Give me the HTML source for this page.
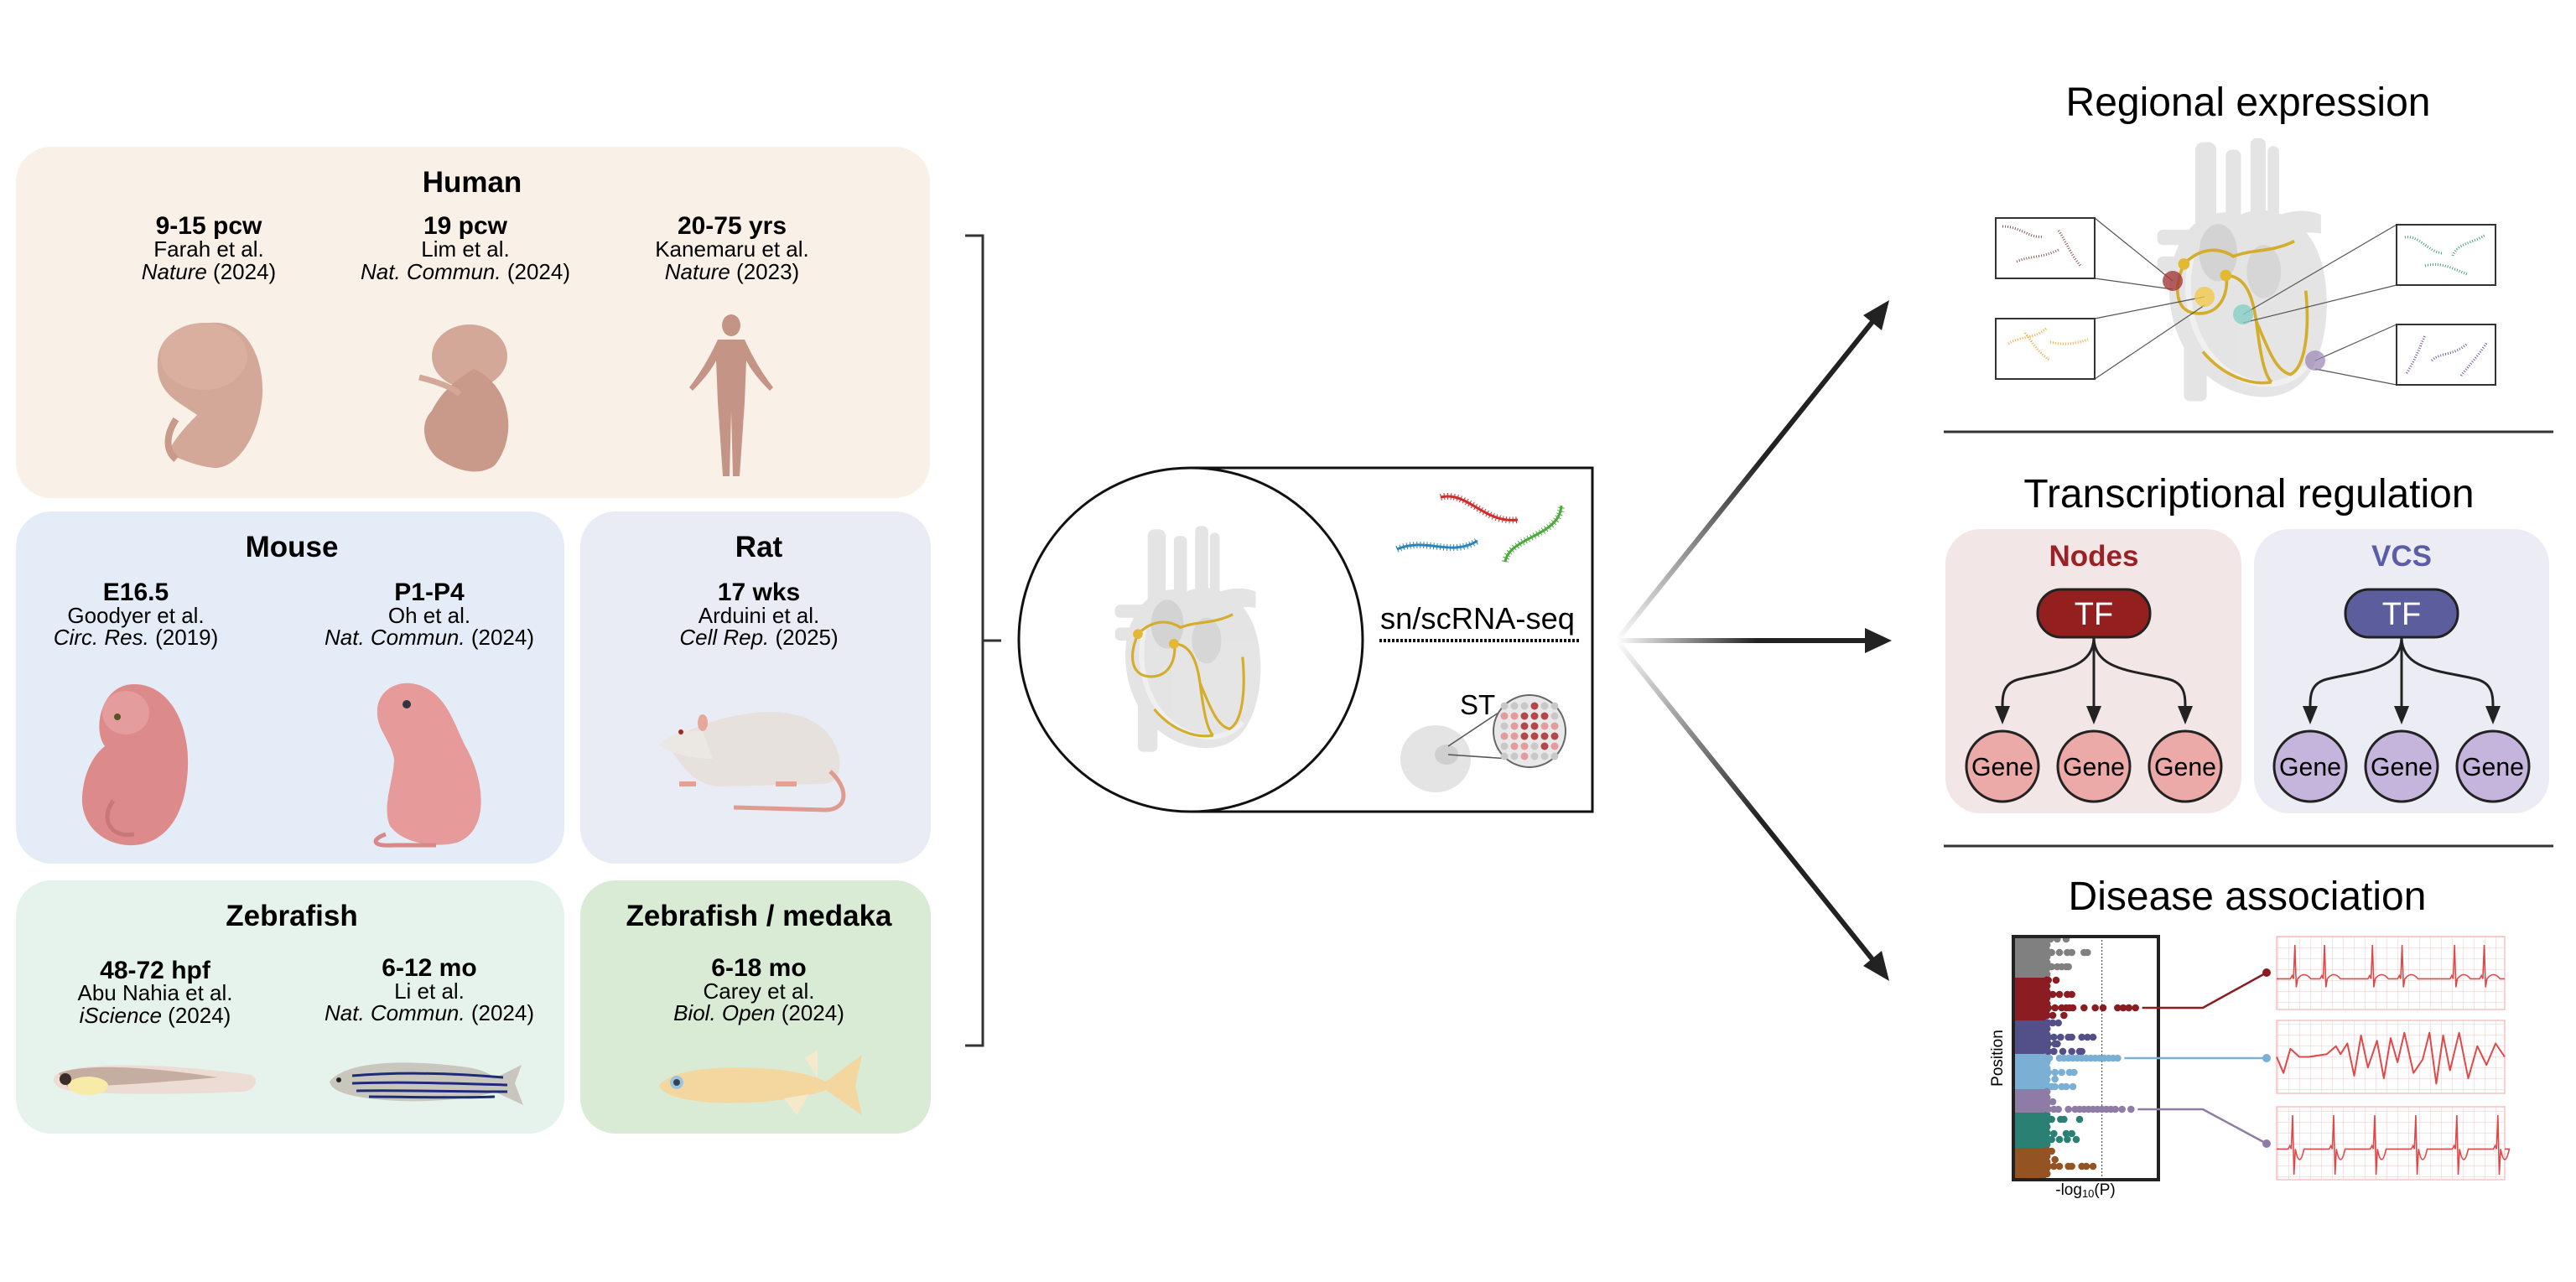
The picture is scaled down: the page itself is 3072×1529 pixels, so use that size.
<!DOCTYPE html>
<html><head><meta charset="utf-8">
<style>
html,body{margin:0;padding:0;background:#fff;}
svg{display:block;font-family:"Liberation Sans",Arial,sans-serif;}
</style></head>
<body>
<svg id="root" width="3072" height="1529" viewBox="0 0 3072 1529" xmlns="http://www.w3.org/2000/svg">
<defs>
  <linearGradient id="gUp" x1="1928" y1="764" x2="2230" y2="370" gradientUnits="userSpaceOnUse">
    <stop offset="0" stop-color="#fff"/><stop offset="0.55" stop-color="#222"/><stop offset="1" stop-color="#222"/></linearGradient>
  <linearGradient id="gMid" x1="1928" y1="764" x2="2230" y2="764" gradientUnits="userSpaceOnUse">
    <stop offset="0" stop-color="#fff"/><stop offset="0.55" stop-color="#222"/><stop offset="1" stop-color="#222"/></linearGradient>
  <linearGradient id="gDn" x1="1928" y1="764" x2="2230" y2="1155" gradientUnits="userSpaceOnUse">
    <stop offset="0" stop-color="#fff"/><stop offset="0.55" stop-color="#222"/><stop offset="1" stop-color="#222"/></linearGradient>
  <pattern id="ecgGrid" width="13" height="13" patternUnits="userSpaceOnUse">
    <path d="M13 0V13M0 13H13" stroke="#f6c4c4" stroke-width="1" fill="none"/></pattern>
  <symbol id="heart" viewBox="0 0 100 140">
    <g fill="#e2e2e2" opacity="0.9">
      <rect x="26" y="2" width="11" height="60" rx="4"/>
      <rect x="42" y="6" width="8" height="40" rx="3"/>
      <rect x="55" y="0" width="8" height="45" rx="3"/>
      <rect x="64" y="4" width="6" height="40" rx="3"/>
      <rect x="6" y="48" width="22" height="8" rx="3"/>
      <rect x="6" y="62" width="22" height="8" rx="3"/>
      <path d="M55 48 C70 38 82 36 92 40 L92 50 C82 48 72 52 62 58 Z"/>
      <rect x="20" y="108" width="12" height="30" rx="3"/>
      <path d="M18 55 C8 72 10 108 34 126 C50 138 72 140 84 126 C98 108 98 72 88 55 C80 40 62 34 50 40 C38 36 24 42 18 55 Z"/>
    </g>
    <path d="M24 62 C20 80 22 104 40 120 C55 132 74 132 84 120" fill="none" stroke="#f0f0f0" stroke-width="3"/>
    <ellipse cx="38" cy="60" rx="10" ry="15" fill="#d3d3d3"/>
    <ellipse cx="62" cy="70" rx="9" ry="14" fill="#d6d6d6"/>
    <g fill="none" stroke="#d4ad2c" stroke-width="1.6">
      <path d="M20 66 C30 56 40 58 46 62 C56 58 66 60 78 54"/>
      <path d="M20 66 C14 80 16 92 28 92 C40 92 44 80 42 70"/>
      <path d="M42 72 C52 72 56 82 58 96 C60 112 62 124 66 128 M58 96 C64 110 68 122 76 124 C84 120 86 100 84 80"/>
      <path d="M30 112 C40 124 54 130 66 128"/>
    </g>
    <circle cx="20" cy="66" r="3" fill="#e2b930"/><circle cx="42" cy="72" r="3" fill="#e2b930"/>
  </symbol>
</defs>

<!-- ================= LEFT PANELS ================= -->
<g>
  <rect x="19" y="175" width="1090" height="419" rx="42" fill="#f9f0e7"/>
  <rect x="19" y="610" width="654" height="420" rx="42" fill="#e4edf7"/>
  <rect x="692" y="610" width="418" height="420" rx="42" fill="#e9ecf4"/>
  <rect x="19" y="1050" width="654" height="302" rx="42" fill="#e6f3ec"/>
  <rect x="692" y="1050" width="418" height="302" rx="42" fill="#d9ebd5"/>
</g>

<g text-anchor="middle" fill="#000">
  <text x="563" y="229" font-size="35" font-weight="bold">Human</text>
  <g>
    <text x="249" y="279" font-size="30" font-weight="bold">9-15 pcw</text>
    <text x="249" y="306" font-size="26">Farah et al.</text>
    <text x="249" y="333" font-size="26"><tspan font-style="italic">Nature</tspan> (2024)</text>
  </g>
  <g>
    <text x="555" y="279" font-size="30" font-weight="bold">19 pcw</text>
    <text x="555" y="306" font-size="26">Lim et al.</text>
    <text x="555" y="333" font-size="26"><tspan font-style="italic">Nat. Commun.</tspan> (2024)</text>
  </g>
  <g>
    <text x="873" y="279" font-size="30" font-weight="bold">20-75 yrs</text>
    <text x="873" y="306" font-size="26">Kanemaru et al.</text>
    <text x="873" y="333" font-size="26"><tspan font-style="italic">Nature</tspan> (2023)</text>
  </g>

  <text x="348" y="664" font-size="35" font-weight="bold">Mouse</text>
  <g>
    <text x="162" y="716" font-size="30" font-weight="bold">E16.5</text>
    <text x="162" y="743" font-size="26">Goodyer et al.</text>
    <text x="162" y="769" font-size="26"><tspan font-style="italic">Circ. Res.</tspan> (2019)</text>
  </g>
  <g>
    <text x="512" y="716" font-size="30" font-weight="bold">P1-P4</text>
    <text x="512" y="743" font-size="26">Oh et al.</text>
    <text x="512" y="769" font-size="26"><tspan font-style="italic">Nat. Commun.</tspan> (2024)</text>
  </g>
  <text x="905" y="664" font-size="35" font-weight="bold">Rat</text>
  <g>
    <text x="905" y="716" font-size="30" font-weight="bold">17 wks</text>
    <text x="905" y="743" font-size="26">Arduini et al.</text>
    <text x="905" y="769" font-size="26"><tspan font-style="italic">Cell Rep.</tspan> (2025)</text>
  </g>

  <text x="348" y="1104" font-size="35" font-weight="bold">Zebrafish</text>
  <g>
    <text x="185" y="1167" font-size="30" font-weight="bold">48-72 hpf</text>
    <text x="185" y="1193" font-size="26">Abu Nahia et al.</text>
    <text x="185" y="1220" font-size="26"><tspan font-style="italic">iScience</tspan> (2024)</text>
  </g>
  <g>
    <text x="512" y="1164" font-size="30" font-weight="bold">6-12 mo</text>
    <text x="512" y="1191" font-size="26">Li et al.</text>
    <text x="512" y="1217" font-size="26"><tspan font-style="italic">Nat. Commun.</tspan> (2024)</text>
  </g>
  <text x="905" y="1104" font-size="35" font-weight="bold">Zebrafish / medaka</text>
  <g>
    <text x="905" y="1164" font-size="30" font-weight="bold">6-18 mo</text>
    <text x="905" y="1191" font-size="26">Carey et al.</text>
    <text x="905" y="1217" font-size="26"><tspan font-style="italic">Biol. Open</tspan> (2024)</text>
  </g>
</g>

<!-- organism illustrations -->
<g>
  <path d="M250 385 C300 380 318 440 312 480 C306 525 280 560 255 558 C235 556 215 548 200 540 C210 520 225 505 235 495 C215 480 185 470 188 430 C190 400 215 386 250 385 Z" fill="#d3a898"/>
  <ellipse cx="243" cy="425" rx="52" ry="40" fill="#d9afa0"/>
  <path d="M210 500 C200 515 195 535 210 548" stroke="#c99a8a" stroke-width="8" fill="none"/>
</g>
<g>
  <ellipse cx="560" cy="425" rx="45" ry="38" fill="#d3a898"/>
  <path d="M565 440 C610 460 618 520 590 555 C570 570 540 560 520 545 C505 530 500 505 515 490 C525 470 540 455 565 440 Z" fill="#c9998a"/>
  <path d="M500 450 C520 455 540 462 548 470" stroke="#d3a898" stroke-width="7" fill="none"/>
</g>
<g fill="#c49586">
  <ellipse cx="872" cy="388" rx="11" ry="13"/>
  <path d="M856 405 L888 405 C895 420 905 440 922 462 L918 466 C902 450 894 438 890 430 L888 480 L882 568 L874 568 L872 490 L870 568 L862 568 L856 480 L854 430 C850 438 842 450 826 466 L822 462 C839 440 849 420 856 405 Z"/>
</g>
<g>
  <path d="M160 816 C200 816 226 860 224 915 C222 970 200 1005 160 1008 C125 1010 96 985 98 950 C100 920 112 900 125 890 C110 870 120 816 160 816 Z" fill="#dd8a8a"/>
  <ellipse cx="150" cy="850" rx="28" ry="26" fill="#e59c9c"/>
  <circle cx="140" cy="855" r="4" fill="#552"/>
  <path d="M135 955 C120 975 130 1000 160 995" stroke="#c97878" stroke-width="5" fill="none"/>
</g>
<g>
  <path d="M490 815 C530 820 540 860 555 890 C578 930 585 990 545 1005 C515 1012 480 1005 465 985 C455 960 470 930 470 905 C465 880 448 870 450 845 C452 825 470 813 490 815 Z" fill="#e69a9a"/>
  <circle cx="485" cy="840" r="5" fill="#334"/>
  <path d="M460 995 C445 1000 440 1010 470 1008 L520 1008" stroke="#d88888" stroke-width="5" fill="none"/>
</g>
<g>
  <path d="M795 885 C830 865 860 855 900 850 C950 845 990 860 1000 900 C1005 925 995 935 980 935 L860 938 C830 938 812 915 795 885 Z" fill="#e6e1dc"/>
  <path d="M785 888 C800 875 820 870 838 872 L850 905 C830 905 800 900 785 888 Z" fill="#ebe7e3"/>
  <ellipse cx="838" cy="862" rx="6" ry="10" fill="#e9a79c"/>
  <circle cx="812" cy="873" r="3" fill="#a22"/>
  <path d="M990 920 C1012 940 1012 965 985 966 L875 963" stroke="#e09a90" stroke-width="5" fill="none"/>
  <path d="M810 935 L830 935 M925 935 L950 935" stroke="#e8a090" stroke-width="6"/>
</g>
<g>
  <path d="M70 1280 C100 1266 200 1268 300 1282 C310 1288 305 1300 290 1302 C200 1306 120 1306 80 1300 C62 1296 60 1286 70 1280 Z" fill="#eddcd3"/>
  <path d="M70 1280 C100 1268 180 1272 260 1285 C180 1292 120 1296 80 1296 Z" fill="#c5ada2"/>
  <ellipse cx="105" cy="1295" rx="24" ry="11" fill="#f8eba8"/>
  <circle cx="78" cy="1287" r="7" fill="#3b2d28"/>
</g>
<g>
  <path d="M393 1290 C410 1268 470 1262 550 1272 C570 1274 585 1280 590 1286 L622 1270 L614 1292 L624 1318 L590 1302 C570 1310 500 1318 440 1310 C410 1306 395 1300 393 1290 Z" fill="#c9c7bd"/>
  <g stroke="#1f2a7a" stroke-width="3" fill="none">
    <path d="M420 1283 C480 1278 540 1280 600 1285"/><path d="M420 1292 C480 1290 540 1292 605 1294"/><path d="M425 1301 C480 1300 540 1302 605 1302"/><path d="M440 1308 C490 1308 540 1310 590 1308"/>
  </g>
  <circle cx="404" cy="1288" r="3" fill="#222"/>
</g>
<g>
  <path d="M786 1295 C800 1275 860 1270 920 1275 C955 1278 975 1285 985 1290 L1028 1258 L1020 1295 L1028 1330 L985 1300 C960 1310 900 1318 850 1315 C810 1312 790 1305 786 1295 Z" fill="#f3d79f"/>
  <circle cx="807" cy="1291" r="8" fill="#9cc4de"/><circle cx="807" cy="1291" r="4" fill="#345"/>
  <path d="M960 1262 L975 1252 L975 1285 Z M935 1310 L950 1330 L965 1305 Z" fill="#f5e9cc"/>
</g>

<!-- bracket -->
<path d="M1151 281 H1172 V1247 H1151 M1172 764 H1194" fill="none" stroke="#333" stroke-width="3"/>

<!-- ================= CENTER ================= -->
<g>
  <path d="M1420 558 H1899 V968 H1420" fill="#fff" stroke="#111" stroke-width="3"/>
  <circle cx="1420" cy="763" r="205" fill="#fff" stroke="#111" stroke-width="3"/>
  <use href="#heart" x="1318" y="618" width="195" height="292"/>
  <g fill="none" stroke-width="3">
    <path d="M1718 593 C1750 585 1770 625 1810 620" stroke="#d22b2b" stroke-dasharray="1 3" stroke-width="8"/>
    <path d="M1718 593 C1750 585 1770 625 1810 620" stroke="#d22b2b"/>
    <path d="M1666 655 C1700 640 1730 665 1762 645" stroke="#2b85b8" stroke-dasharray="1 3" stroke-width="8"/>
    <path d="M1666 655 C1700 640 1730 665 1762 645" stroke="#2b85b8"/>
    <path d="M1795 670 C1800 640 1860 640 1862 603" stroke="#4caa3c" stroke-dasharray="1 3" stroke-width="8"/>
    <path d="M1795 670 C1800 640 1860 640 1862 603" stroke="#4caa3c"/>
  </g>
  <text x="1762" y="750" font-size="36" text-anchor="middle" textLength="232" lengthAdjust="spacingAndGlyphs">sn/scRNA-seq</text>
  <line x1="1645" y1="764" x2="1884" y2="764" stroke="#111" stroke-width="4" stroke-dasharray="3 2"/>
  <text x="1741" y="852" font-size="33">ST</text>
  <ellipse cx="1712" cy="905" rx="42" ry="40" fill="#e4e4e4"/>
  <ellipse cx="1725" cy="900" rx="14" ry="12" fill="#cfcfcf"/>
  <path d="M1727 890 L1790 848 M1727 900 L1800 905" stroke="#555" stroke-width="1.5"/>
  <circle cx="1824" cy="872" r="43" fill="#e8e8e8" stroke="#666" stroke-width="2"/>
  <g id="spots"></g>
</g>

<!-- arrows -->
<g>
  <line x1="1928" y1="764" x2="2236" y2="380" stroke="url(#gUp)" stroke-width="6"/>
  <polygon points="2253,358 2244,394 2222,376" fill="#222"/>
  <line x1="1928" y1="764" x2="2228" y2="764" stroke="url(#gMid)" stroke-width="6"/>
  <polygon points="2256,764 2224,749 2224,779" fill="#222"/>
  <line x1="1928" y1="764" x2="2236" y2="1148" stroke="url(#gDn)" stroke-width="6"/>
  <polygon points="2253,1170 2222,1152 2244,1134" fill="#222"/>
</g>

<!-- ================= RIGHT ================= -->
<g text-anchor="middle" font-size="48">
  <text x="2681" y="138">Regional expression</text>
  <text x="2682" y="605">Transcriptional regulation</text>
  <text x="2680" y="1085">Disease association</text>
</g>
<line x1="2318" y1="515" x2="3045" y2="515" stroke="#333" stroke-width="3"/>
<line x1="2318" y1="1009" x2="3045" y2="1009" stroke="#333" stroke-width="3"/>

<g>
  <use href="#heart" x="2555" y="165" width="235" height="318"/>
  <g stroke="#555" stroke-width="1.2">
    <line x1="2498" y1="260" x2="2591" y2="335"/><line x1="2498" y1="332" x2="2591" y2="345"/>
    <line x1="2498" y1="380" x2="2629" y2="354"/><line x1="2498" y1="452" x2="2629" y2="364"/>
    <line x1="2858" y1="268" x2="2675" y2="375"/><line x1="2858" y1="340" x2="2675" y2="385"/>
    <line x1="2858" y1="387" x2="2761" y2="430"/><line x1="2858" y1="459" x2="2761" y2="440"/>
  </g>
  <circle cx="2591" cy="335" r="12" fill="#a13a3a" opacity="0.8"/>
  <circle cx="2629" cy="354" r="12" fill="#f2c84b" opacity="0.8"/>
  <circle cx="2675" cy="375" r="12" fill="#86cfc6" opacity="0.8"/>
  <circle cx="2761" cy="430" r="12" fill="#9a85b4" opacity="0.7"/>
  <g fill="#fff" stroke="#333" stroke-width="2">
    <rect x="2380" y="260" width="118" height="72"/>
    <rect x="2380" y="380" width="118" height="72"/>
    <rect x="2858" y="268" width="118" height="72"/>
    <rect x="2858" y="387" width="118" height="72"/>
  </g>
  <g fill="none" stroke-width="3" stroke-dasharray="1 2">
    <path d="M2388 270 C2410 270 2420 285 2437 282 M2455 275 C2465 290 2470 305 2482 318 M2405 312 C2420 305 2435 308 2455 298" stroke="#8a5555"/>
    <path d="M2395 410 C2410 400 2425 405 2440 392 M2415 397 C2425 410 2430 420 2445 430 M2445 408 C2460 412 2475 410 2490 405" stroke="#efa93c"/>
    <path d="M2868 283 C2885 280 2895 300 2912 302 M2925 305 C2930 290 2950 290 2964 280 M2892 317 C2910 312 2925 320 2942 327" stroke="#4a9a8e"/>
    <path d="M2870 445 C2880 430 2885 415 2892 400 M2900 430 C2910 420 2925 425 2942 410 M2935 448 C2945 435 2955 425 2966 408" stroke="#7a5a9a"/>
  </g>
</g>

<g>
  <rect x="2320" y="631" width="353" height="339" rx="42" fill="#f3e6e6"/>
  <rect x="2688" y="631" width="352" height="339" rx="42" fill="#ecedf4"/>
  <text x="2497" y="675" font-size="35" font-weight="bold" fill="#9a2226" text-anchor="middle">Nodes</text>
  <text x="2864" y="675" font-size="35" font-weight="bold" fill="#5b5ea6" text-anchor="middle">VCS</text>
  <g id="trees"></g>
</g>

<g id="disease"></g>
</svg>

<script>
// ---- Manhattan plot data ----
var bandNames = ["gray","red","navy","lightblue","purple","teal","brown"];
var bandColors = ["#808080","#8b1c22","#535089","#7bafd4","#8e7ca6","#2a8073","#935323"];
var bandStart = [0, 49, 100, 140, 182, 210, 252];     // position units (top of each band)
var bandEnd   = [49, 100, 140, 182, 210, 252, 290];
var dotBand = [0,0,0,1,1,1,1,2,2,2,2,3,3,3,3,4,4,5,5,5,6,6,6];
var dotPos  = [3,19,36,52,69,85,94,103,120,128,137,145,162,170,179,197,206,218,235,242,256,266,274];
var dotVals = [
  [0.4,1.0,1.8],
  [0.5,1.2,1.9,2.3,3.4,3.7],
  [0.5,1.0,1.4,1.8,2.0],
  [0.2,0.9],
  [0.6,1.2,1.9,2.3],
  [0.2,0.8,1.4,1.8,2.1,2.4,3.4,4.4,5.1,6.4,6.9,7.4,8.0],
  [0.6,1.6],
  [0.2,0.6,1.1],
  [0.2,0.7,1.3,2.0,2.3,3.2,3.7,4.2],
  [0.2,0.8,1.0],
  [0.2,0.7,1.5,2.3,3.0,3.2],
  [0.3,1.2,1.6,2.0,2.4,2.8,3.2,3.6,4.0,4.4,4.8,5.2,5.6,6.0,6.4],
  [0.2,0.8,1.4,2.1,2.5],
  [0.8],
  [0.5,0.8,1.4,1.8,2.4],
  [0.6],
  [0.2,0.7,1.1,2.0,2.6,3.0,3.4,3.8,4.2,4.6,5.0,5.4,5.8,6.2,6.8,7.6],
  [0.5,1.3,1.6,3.0],
  [0.7,1.8,2.3],
  [0.2,0.5,1.2,1.9,2.7],
  [0.5],
  [0.8],
  [0.2,0.7,1.2,2.0,2.3,3.2,3.6,4.2]
];
var threshold = 5.0;
var xMax = 9.6;
// highlighted hits: [dot row, ECG panel]
var hitRows = [5, 11, 16];
var hitColors = ["#8b1c22","#7bafd4","#8e7ca6"];
// ECG rhythms (beat times in panel units 0..100)
var ecgBeats1 = [8,21,42,55,78,91];
var ecgBeats3 = [7,25,43,61,79,97];
var ecgVf = [0,3,6,10,14,18,22,26,28,31,34,37,40,44,47,50,53,56,60,64,67,70,73,76,80,84,88,92,96,100];
var ecgVfAmp = [0,-0.6,0.3,0.0,0.0,0.05,0.1,0.4,0.1,0.5,-0.7,0.8,-0.4,0.6,-0.8,0.7,-0.2,0.9,-0.6,-0.1,0.9,-1.0,0.8,-0.5,0.9,-0.8,0.4,-0.3,0.5,0.0];

var NS = "http://www.w3.org/2000/svg";
function mk(tag, attrs, parent){var e=document.createElementNS(NS,tag);for(var k in attrs)e.setAttribute(k,attrs[k]);parent.appendChild(e);return e;}

var plotL=2401, plotR=2574, plotT=1117, plotB=1407, base=2440;
function xScale(v){return base + v*(plotR-6-base)/xMax;}
function yScale(p){return plotT + p*(plotB-plotT)/290;}

var dz = document.getElementById('disease');
var box = mk('rect',{x:plotL,y:plotT,width:plotR-plotL,height:plotB-plotT,fill:'#fff'},dz);
bandNames.forEach(function(n,i){
  var r = mk('rect',{x:plotL,y:yScale(bandStart[i]),width:base-plotL,height:yScale(bandEnd[i])-yScale(bandStart[i]),fill:bandColors[i]},dz);
  
  
  // ragged edge dots
  for(var p=bandStart[i]+3;p<bandEnd[i]-2;p+=7){
    mk('circle',{cx:base+1,cy:yScale(p),r:4.5,fill:bandColors[i]},dz);
  }
});
var th = mk('line',{x1:xScale(threshold),y1:plotT,x2:xScale(threshold),y2:plotB,stroke:'#333','stroke-width':1,'stroke-dasharray':'2 2'},dz);


dotVals.forEach(function(row,j){
  row.forEach(function(v){
    var c = mk('circle',{cx:xScale(v),cy:yScale(dotPos[j]),r:4.3,fill:bandColors[dotBand[j]]},dz);
    
    
  });
});
var fr = mk('rect',{x:plotL,y:plotT,width:plotR-plotL,height:plotB-plotT,fill:'none',stroke:'#222','stroke-width':4},dz);


var yl = mk('text',{x:2388,y:1262,'font-size':19,'text-anchor':'middle',transform:'rotate(-90 2388 1262)'},dz);
yl.textContent='Position';


var xl = mk('text',{x:2487,y:1425,'font-size':19,'text-anchor':'middle'},dz);
xl.innerHTML='-log<tspan font-size="13" dy="3">10</tspan><tspan dy="-3">(P)</tspan>';



// ECG panels
var ecgL=2715, ecgR=2987, ecgTops=[1117,1217,1320], ecgH=87;
function ex(t){return ecgL + t*(ecgR-ecgL)/100;}
ecgTops.forEach(function(t,k){
  var g = mk('rect',{x:ecgL,y:t,width:ecgR-ecgL,height:ecgH,fill:'url(#ecgGrid)',stroke:'#f6c4c4','stroke-width':1.5},dz);
  
  
});
function normalEcg(beats, top, inverted){
  var mid = top+ecgH*0.58, d='M'+ex(0)+' '+mid;
  beats.forEach(function(b){
    d+=' L'+ex(b-2)+' '+mid+' L'+ex(b-1.2)+' '+(mid-4)+' L'+ex(b-0.6)+' '+mid;
    d+=' L'+ex(b)+' '+(top+10)+' L'+ex(b+0.6)+' '+(inverted?top+ecgH-6:mid+10)+' L'+ex(b+1.2)+' '+mid;
    if(inverted){d+=' Q'+ex(b+3)+' '+(mid+25)+' '+ex(b+5)+' '+mid;}
    else{d+=' Q'+ex(b+4)+' '+(mid-10)+' '+ex(b+7)+' '+mid;}
  });
  d+=' L'+ex(100)+' '+mid;
  return d;
}
var e1 = mk('path',{d:normalEcg(ecgBeats1,ecgTops[0],false),fill:'none',stroke:'#e04848','stroke-width':1.6},dz);


var mid2 = ecgTops[1]+ecgH*0.5, d2='';
ecgVf.forEach(function(t,i){d2+=(i?' L':'M')+ex(t)+' '+(mid2-ecgVfAmp[i]*32);});
var e2 = mk('path',{d:d2,fill:'none',stroke:'#e04848','stroke-width':2,'stroke-linejoin':'round'},dz);


var e3 = mk('path',{d:normalEcg(ecgBeats3,ecgTops[2],true),fill:'none',stroke:'#e04848','stroke-width':1.6},dz);



// connectors from hits to ECGs
var targets=[1160,1262,1364];
hitRows.forEach(function(r,k){
  var y = yScale(dotPos[r]);
  var x0 = xScale(dotVals[r][dotVals[r].length-1])+8;
  var d = (k===1) ? 'M'+x0+' '+y+' L2703 '+targets[k] : 'M'+x0+' '+y+' L2627 '+y+' L2703 '+targets[k];
  var p = mk('path',{d:d,fill:'none',stroke:hitColors[k],'stroke-width':2.5},dz);
  
  
  mk('circle',{cx:2703,cy:targets[k],r:5,fill:hitColors[k]},dz);
});

// TF trees
var trees = document.getElementById('trees');
var treeCx=[2497,2864], tfFill=['#93201f','#5b5d9d'], geneFill=['#eba9a7','#c5b5dc'];
treeCx.forEach(function(cx,t){
  var gx=[cx-109,cx,cx+109];
  gx.forEach(function(x,i){
    var d = (i===1)?'M'+cx+' 760 L'+cx+' 845':'M'+cx+' 760 C'+cx+' 800 '+(x+(x<cx?60:-60))+' 800 '+(x+(x<cx?20:-20))+' 810 C'+x+' 815 '+x+' 830 '+x+' 845';
    mk('path',{d:d,fill:'none',stroke:'#222','stroke-width':3},trees);
    mk('polygon',{points:(x-9)+',842 '+(x+9)+',842 '+x+',864',fill:'#222'},trees);
    var c = mk('ellipse',{cx:x,cy:914,rx:43,ry:42,fill:geneFill[t],stroke:'#222','stroke-width':3},trees);
    
    
    var tx = mk('text',{x:x,y:925,'font-size':31,'text-anchor':'middle',textLength:74,lengthAdjust:'spacingAndGlyphs'},trees);
    tx.textContent='Gene';
  });
  var pill = mk('rect',{x:cx-67,y:703,width:134,height:57,rx:28,fill:tfFill[t],stroke:'#222','stroke-width':3},trees);
  
  
  var tt = mk('text',{x:cx,y:745,'font-size':38,'text-anchor':'middle',fill:'#fff'},trees);
  tt.textContent='TF';
});

// ST spots
var spots=document.getElementById('spots');
var spotLevels=[[0,0,0,2,0,0],[1,1,2,2,2,0],[0,1,2,2,1,1],[1,1,2,2,2,2],[0,1,1,0,2,1],[0,0,1,0,0,0]];
spotLevels.forEach(function(row,r){row.forEach(function(l,c){
  mk('circle',{cx:1794+c*12,cy:842+r*12,r:4.5,fill:['#c8c8c8','#e59c9c','#b3474a'][l]},spots);
});});
</script>
</body></html>
